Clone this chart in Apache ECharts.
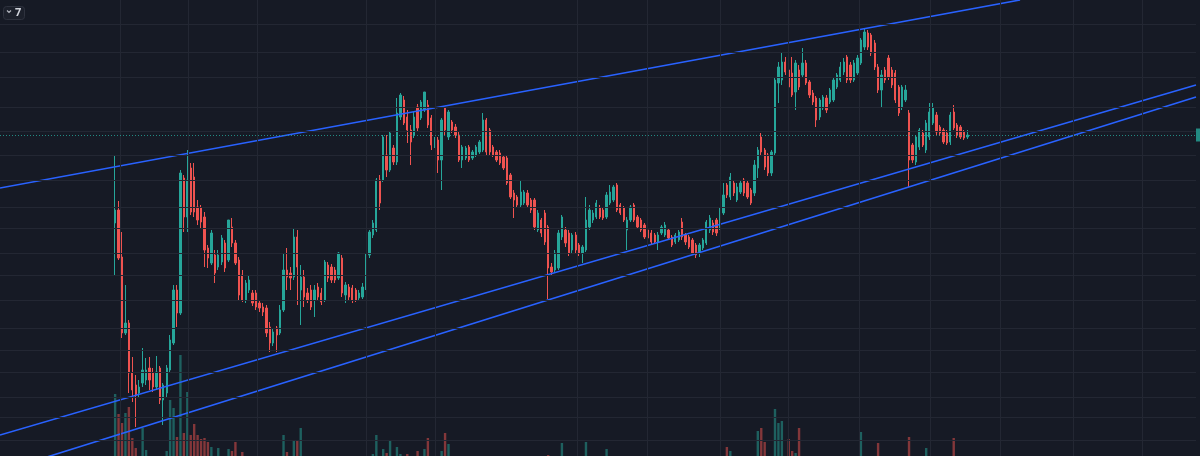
<!DOCTYPE html>
<html>
<head>
<meta charset="UTF-8">
<title>Candles</title>
<script src="https://cdn.jsdelivr.net/npm/echarts@6/dist/echarts.min.js"></script>
<style>
  html, body { margin: 0; padding: 0; background: #161a25; }
  #main { width: 1200px; height: 456px; }
</style>
</head>
<body>
<div id="main"></div>
<script>
// price in chart units, one entry per candle (oldest first)
var opens = [
  277,290,243,167,177,127,115,107,117,120, 132,127,113,132,100,107,130,157,210,187,
  322,283,332,323,293,292,283,252,237,245, 233,238,257,240,273,257,240,225,200,210,
  207,207,197,193,192,173,157,172,167,190, 230,227,223,263,210,223,207,210,200,213,
  207,200,235,233,230,222,242,205,213,212, 210,202,203,212,245,265,270,320,320,345,
  330,352,338,383,400,383,370,365,393,382, 390,395,382,355,360,340,392,363,378,373,
  365,340,342,353,342,345,348,350,380,370, 353,348,347,343,342,325,307,303,295,297,
  307,300,300,270,280,287,273,233,230,232, 263,270,267,250,265,255,247,250,273,280,
  283,292,290,283,297,300,315,295,292,270, 280,295,283,280,275,270,267,265,258,267,
  265,270,263,258,260,278,265,263,260,255, 248,252,257,270,277,280,272,287,315,303,
  317,300,308,320,317,310,307,332,363,350, 345,327,347,417,420,438,430,427,408,430,
  425,437,418,407,402,383,392,402,398,400, 413,420,428,443,435,420,427,437,453,467,
  465,457,433,410,430,442,430,427,413,393, 400,387,355,338,353,367,350,363,377,385,
  373,370,367,358,388,375,373,368,363
];
var closes = [
  290,242,167,177,127,110,105,113,130,130, 120,113,128,100,115,132,160,210,187,327,
  283,320,288,288,280,278,250,242,267,227, 245,262,232,280,257,237,205,200,217,220,
  197,193,192,188,167,157,168,165,190,230, 223,222,263,233,223,203,200,193,210,203,
  198,238,222,220,220,247,207,215,203,200, 200,207,213,245,268,277,320,297,363,330,
  367,338,387,405,377,370,358,383,372,398, 408,375,355,360,340,380,370,388,370,365,
  340,353,352,340,348,353,358,380,348,348, 345,340,337,332,317,303,300,295,308,308,
  295,290,273,287,267,258,232,228,247,267, 283,257,247,265,250,247,253,280,290,287,
  297,283,282,305,308,313,290,287,280,280, 293,280,273,270,263,262,258,258,265,273,
  275,262,255,265,268,263,258,253,247,245, 255,260,278,282,268,267,290,305,305,323,
  307,313,317,307,303,297,335,350,348,333, 327,348,420,433,438,428,413,405,437,413,
  437,417,405,398,380,400,403,390,410,420, 425,433,438,420,420,437,442,460,468,453,
  447,433,410,425,420,423,415,400,387,413, 410,340,340,363,370,355,377,388,392,368,
  367,358,357,385,372,365,363,362,365
];
var highs = [
  345,299,268,215,180,143,125,120,152,142, 143,132,144,134,117,135,165,215,215,330,
  325,350,337,337,300,295,288,255,270,250, 250,265,260,280,282,260,243,230,220,225,
  210,210,200,197,195,178,172,174,195,247, 252,233,272,270,235,230,212,215,215,217,
  212,240,238,236,233,248,245,218,216,215, 212,210,217,247,270,280,322,325,365,365,
  368,355,402,407,404,390,375,388,396,400, 408,400,385,363,363,382,392,390,380,376,
  368,355,354,355,350,355,360,387,382,372, 355,350,350,345,344,327,310,305,320,310,
  310,302,302,290,282,290,275,237,250,270, 285,273,270,267,268,257,255,303,295,290,
  300,295,292,308,315,315,317,297,294,283, 295,297,285,282,277,272,270,267,268,275,
  278,272,265,267,270,282,267,265,262,257, 257,262,280,285,280,282,292,317,317,327,
  320,317,320,322,320,312,340,353,367,352, 347,350,422,438,448,443,435,443,440,435,
  452,440,420,410,404,402,405,405,412,422, 427,438,442,445,438,440,445,462,472,470,
  467,460,436,430,433,445,433,430,415,415, 415,390,357,365,372,370,380,397,397,388,
  375,372,370,388,395,377,375,370,370
];
var lows = [
  225,240,162,165,107,98,73,102,113,115, 110,108,110,96,75,102,128,155,173,185,
  268,268,285,283,275,272,233,232,235,217, 230,235,228,238,253,235,200,198,197,207,
  194,190,188,184,163,148,154,148,165,188, 210,210,220,195,175,193,197,190,183,200,
  195,198,218,217,217,220,203,197,200,197, 198,200,201,210,242,262,268,290,318,323,
  328,335,335,380,375,357,335,362,368,380, 388,372,350,352,327,310,365,360,367,362,
  338,332,340,338,340,343,346,348,345,345, 343,338,335,330,315,301,282,292,293,295,
  293,287,270,268,263,255,201,225,228,230, 260,253,244,247,247,244,237,248,270,277,
  281,281,280,281,295,298,288,285,278,250, 278,278,271,268,261,260,256,256,250,265,
  263,260,253,256,258,260,255,251,245,242, 243,250,255,267,265,264,270,285,302,300,
  304,298,306,304,301,295,304,322,344,330, 324,324,345,397,415,425,397,403,390,410,
  422,415,402,395,373,380,390,387,396,398, 411,418,425,417,417,418,425,435,450,450,
  444,430,407,393,417,420,412,397,384,390, 398,313,337,335,350,353,347,360,375,365,
  364,356,355,355,370,362,361,360,361
];
var volumes = [
  92,72,63,73,79,48,38,22,58,36, 24,20,26,22,28,35,86,78,49,131,
  53,94,51,62,51,47,48,44,39,25, 38,22,26,37,35,44,24,34,18,16,
  14,18,12,15,20,22,17,19,13,51, 34,20,45,46,58,22,16,14,18,12,
  15,19,13,12,16,21,18,14,11,13, 12,15,17,22,26,32,51,24,37,33,
  45,22,39,32,20,32,18,24,35,21, 37,48,17,14,19,35,53,42,16,13,
  12,15,11,10,14,9,12,20,16,13, 11,10,12,14,16,18,22,13,15,12,
  11,14,17,12,13,20,31,18,15,22, 43,16,14,12,15,11,18,44,20,16,
  13,12,15,37,19,14,16,12,10,21, 12,10,11,9,13,12,10,14,18,11,
  13,10,9,12,11,16,10,12,14,18, 15,12,20,17,13,12,19,22,39,35,
  20,18,16,14,17,15,26,55,58,44, 22,28,77,63,65,25,47,35,33,58,
  22,18,20,16,24,19,14,15,13,17, 20,15,18,22,16,14,20,54,28,20,
  22,18,43,24,16,14,12,17,20,18, 22,49,20,17,15,12,38,20,16,14,
  12,15,13,18,48,16,12,10,14
];

// time axis slots: empty space before the first candle and after the last one
var slotCount = 348;
var firstSlot = 33;

// horizontal price grid levels and vertical time grid positions (slot units)
var priceGrid = [476, 448, 423, 393, 369, 345, 320, 293, 272, 247, 225, 200, 172, 150, 128, 103, 83, 60];
var timeGrid = [34.4, 54.2, 74.3, 106.0, 126.1, 167.4, 187.8, 209.0, 228.8, 249.4, 270.1, 290.5, 311.7, 331.8];

// drawn trend lines: [[slot, price], [slot, price]]
var trendLines = [
  [[-0.5, 312], [296.3, 500]],
  [[-0.5, 65], [347.5, 415]],
  [[-0.5, 28.3], [347.5, 403]]
];

var upColor = '#26a69a';
var downColor = '#ef5350';

var slots = [];
var candleData = [];
var volumeData = [];
for (var s = 0; s < slotCount; s++) {
    slots.push(String(s));
    var i = s - firstSlot;
    if (i >= 0 && i < opens.length) {
        candleData.push([opens[i], closes[i], lows[i], highs[i]]);
        var up = closes[i] >= opens[i];
        volumeData.push({
            value: volumes[i],
            itemStyle: {color: up ? 'rgba(38,166,154,0.5)' : 'rgba(239,83,80,0.5)'}
        });
    } else {
        candleData.push('-');
        volumeData.push('-');
    }
}
var lastClose = closes[closes.length - 1];

var gridLines = priceGrid.map(function (v) { return {yAxis: v}; })
    .concat(timeGrid.map(function (v) { return {xAxis: v}; }));

var myChart = echarts.init(document.getElementById('main'));
var option = {
    backgroundColor: '#161a25',
    animation: false,
    grid: [
        {left: 0, right: 4, top: 0, bottom: 0},
        // volume pane: its zero line sits below the visible area
        {left: 0, right: 4, top: 300, bottom: 0}
    ],
    xAxis: [
        {type: 'category', gridIndex: 0, data: slots, show: false, boundaryGap: true},
        {type: 'value', gridIndex: 0, min: -0.5, max: slotCount - 0.5, show: false},
        {type: 'category', gridIndex: 1, data: slots, show: false, boundaryGap: true}
    ],
    yAxis: [
        {type: 'value', gridIndex: 0, min: 44, max: 500, show: false, splitLine: {show: false}},
        {type: 'value', gridIndex: 1, min: 30, max: 186, show: false, splitLine: {show: false}}
    ],
    graphic: [
        {type: 'rect', left: 3, top: 6, z: 100,
         shape: {width: 21, height: 13, r: 3},
         style: {fill: '#1c202b', stroke: '#2e323e', lineWidth: 1}},
        {type: 'polyline', z: 101,
         shape: {points: [[7, 10.5], [9, 12.5], [11, 10.5]]},
         style: {stroke: '#b2b5be', lineWidth: 1.2, fill: null}},
        {type: 'text', left: 15, top: 7, z: 101,
         style: {text: '7', fill: '#d1d4dc', font: 'bold 11px "Noto Sans", sans-serif'}}
    ],
    series: [
        {
            name: 'grid',
            type: 'line',
            xAxisIndex: 1,
            yAxisIndex: 0,
            data: [],
            silent: true,
            z: 0,
            markLine: {
                silent: true,
                symbol: ['none', 'none'],
                label: {show: false},
                lineStyle: {color: '#232733', width: 1, type: 'solid'},
                data: gridLines
            }
        },
        {
            name: 'Volume',
            type: 'bar',
            xAxisIndex: 2,
            yAxisIndex: 1,
            data: volumeData,
            barWidth: 2.4,
            clip: true,
            silent: true,
            z: 1
        },
        {
            name: 'Price',
            type: 'candlestick',
            xAxisIndex: 0,
            yAxisIndex: 0,
            data: candleData,
            barWidth: 1.8,
            z: 2,
            itemStyle: {
                color: upColor,
                color0: downColor,
                borderColor: upColor,
                borderColor0: downColor,
                borderWidth: 1
            },
            markLine: {
                silent: true,
                symbol: ['none', 'none'],
                lineStyle: {color: '#26a69a', width: 1, type: [1, 2], opacity: 0.8},
                label: {
                    show: true,
                    position: 'end',
                    distance: 0,
                    formatter: '{c}',
                    color: '#ffffff',
                    backgroundColor: '#26a69a',
                    fontSize: 10,
                    lineHeight: 11,
                    padding: [1, 4]
                },
                data: [{yAxis: lastClose}]
            }
        }
    ].concat(trendLines.map(function (pts, k) {
        return {
            name: 'trend' + k,
            type: 'line',
            xAxisIndex: 1,
            yAxisIndex: 0,
            data: pts,
            showSymbol: false,
            silent: true,
            z: 3,
            lineStyle: {color: '#2962ff', width: 1.6}
        };
    }))
};
myChart.setOption(option);
</script>
</body>
</html>
